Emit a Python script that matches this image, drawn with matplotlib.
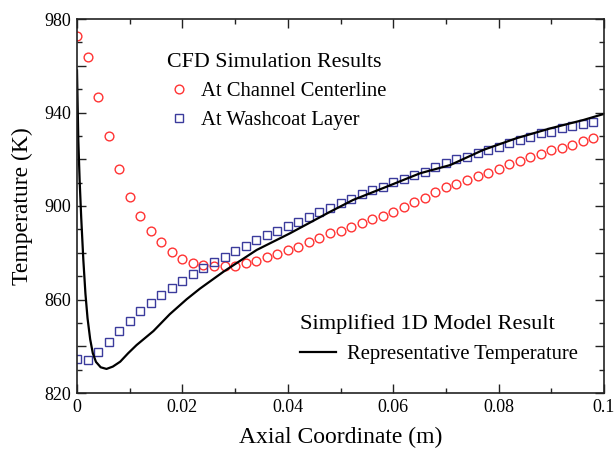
import numpy as np
import matplotlib
matplotlib.use("Agg")
import matplotlib.pyplot as plt
from matplotlib.ticker import MultipleLocator, FuncFormatter
from matplotlib.lines import Line2D

# ---- data ----
x_cfd = [round(0.002 * i, 3) for i in range(50)]
t_centerline = [972.9, 963.9, 946.8, 930.1, 915.8, 904.0, 895.9, 889.3, 884.5, 880.3,
                877.5, 875.5, 874.8, 874.3, 874.3, 874.3, 875.5, 876.5, 878.3, 879.5,
                881.2, 882.6, 884.5, 886.4, 888.3, 889.4, 891.1, 892.9, 894.3, 895.9,
                897.6, 899.6, 901.6, 903.5, 905.8, 908.0, 909.5, 911.1, 912.8, 914.0,
                915.8, 918.0, 919.3, 920.8, 922.1, 924.0, 924.9, 926.1, 927.9, 929.0]
t_washcoat = [834.4, 834.1, 837.4, 841.9, 846.7, 850.9, 855.1, 858.6, 861.9, 865.0,
              867.9, 870.7, 873.3, 876.0, 878.3, 880.7, 882.9, 885.3, 887.6, 889.3,
              891.4, 893.3, 895.4, 897.3, 899.0, 901.2, 903.0, 905.1, 906.8, 908.3,
              910.1, 911.6, 913.3, 914.7, 916.8, 918.3, 919.9, 921.1, 922.8, 924.0,
              925.4, 926.8, 928.2, 929.4, 931.1, 931.8, 933.2, 934.4, 935.1, 935.8]
x_model = [0.0, 0.00025, 0.0005, 0.0008, 0.0012, 0.0016, 0.002, 0.0025, 0.003, 0.0036,
           0.0045, 0.0056, 0.0068, 0.0082, 0.0097, 0.0113, 0.0145, 0.0176, 0.0208,
           0.0233, 0.0278, 0.0341, 0.0404, 0.048, 0.0524, 0.0588, 0.0651, 0.0708,
           0.0771, 0.0834, 0.0898, 0.0961, 0.1]
t_model = [958.0, 928.0, 911.0, 895.0, 877.0, 862.5, 852.0, 843.0, 837.0, 833.3,
           831.0, 830.3, 831.3, 833.4, 837.0, 840.5, 846.5, 853.7, 860.1,
           864.6, 871.9, 881.2, 888.3, 897.5, 902.6, 908.3, 914.0, 917.5,
           924.0, 929.0, 933.2, 936.8, 939.4]

plt.rcParams['font.family'] = ['Liberation Serif', 'DejaVu Serif']

fig = plt.figure(figsize=(6.16, 4.5), dpi=100)
ax = fig.add_axes([77/616, 1 - 393/450, (604-77)/616, (393-19)/450])

red = '#ff3333'
blue = '#3b3b9c'

ax.plot(x_cfd, t_centerline, linestyle='none', marker='o', markersize=6.3,
        markerfacecolor='none', markeredgecolor=red, markeredgewidth=1.0)
ax.plot(x_cfd, t_washcoat, linestyle='none', marker='s', markersize=6.0,
        markerfacecolor='none', markeredgecolor=blue, markeredgewidth=1.0)
ax.plot(x_model, t_model, color='black', linewidth=1.6)

ax.set_xlim(0, 0.1)
ax.set_ylim(820, 980)
ax.xaxis.set_major_locator(MultipleLocator(0.02))
ax.xaxis.set_minor_locator(MultipleLocator(0.01))
ax.yaxis.set_major_locator(MultipleLocator(20))
ax.yaxis.set_minor_locator(MultipleLocator(10))

def xfmt(v, pos):
    if abs(v) < 1e-9:
        return '0'
    return ('%.2f' % v).rstrip('0')
def yfmt(v, pos):
    return '%d' % round(v) if int(round(v) - 820) % 40 == 0 else ''
ax.xaxis.set_major_formatter(FuncFormatter(xfmt))
ax.yaxis.set_major_formatter(FuncFormatter(yfmt))

ax.tick_params(which='both', direction='in', top=True, right=True, width=1.0,
               color='#222222', labelsize=13)
ax.tick_params(which='major', length=6.5)
ax.tick_params(which='minor', length=3.5)
ax.tick_params(axis='x', pad=4)
ax.tick_params(axis='y', pad=4)
for s in ax.spines.values():
    s.set_linewidth(1.2)
    s.set_color('#222222')

ax.set_xlabel('Axial Coordinate (m)', fontsize=17, labelpad=8)
ax.set_ylabel('Temperature (K)', fontsize=17, labelpad=8)

h1 = Line2D([], [], linestyle='none', marker='o', markersize=6.3,
            markerfacecolor='none', markeredgecolor=red, markeredgewidth=1.0)
h2 = Line2D([], [], linestyle='none', marker='s', markersize=6.0,
            markerfacecolor='none', markeredgecolor=blue, markeredgewidth=1.0)
leg1 = ax.legend([h1, h2], ['At Channel Centerline', 'At Washcoat Layer'],
                 title='CFD Simulation Results', loc='upper left',
                 bbox_to_anchor=(0.155, 0.932), frameon=False, fontsize=14.9,
                 title_fontsize=15.8, handlelength=1.2, handletextpad=0.46,
                 labelspacing=0.47, borderaxespad=0)
leg1._legend_box.align = 'left'
ax.add_artist(leg1)

h3 = Line2D([], [], color='black', linewidth=1.6)
leg2 = ax.legend([h3], ['Representative Temperature'],
                 title='Simplified 1D Model Result', loc='upper left',
                 bbox_to_anchor=(0.408, 0.233), frameon=False, fontsize=14.9,
                 title_fontsize=16.1, handlelength=1.74, handletextpad=0.53,
                 borderaxespad=0)
leg2._legend_box.align = 'left'

fig.savefig('out.png', dpi=100)
